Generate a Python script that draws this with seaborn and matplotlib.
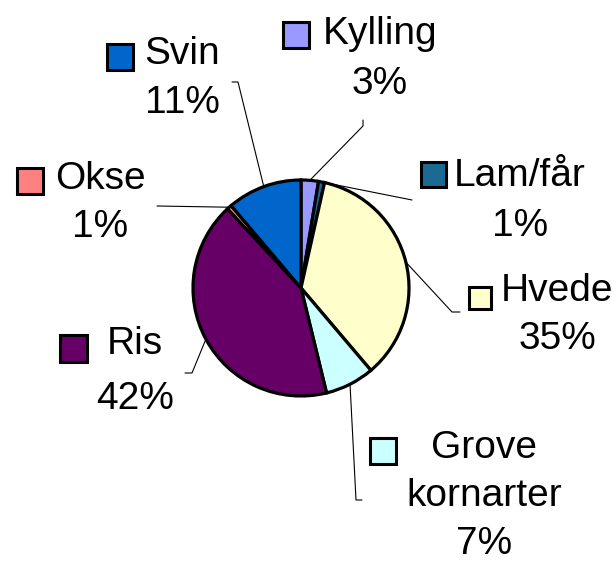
import matplotlib
matplotlib.use("Agg")
import matplotlib.pyplot as plt
import seaborn as sns
import numpy as np
from matplotlib.patches import Rectangle

# slice data, clockwise from 12 o'clock
categories = ["Kylling", "Lam/får", "Hvede", "Grove\nkornarter", "Ris", "Okse", "Svin"]
shares = [2.6, 0.9, 35.3, 7.4, 41.9, 0.7, 11.2]
colors = ["#9999FF", "#1B6A94", "#FFFFCC", "#CCFFFF", "#660066", "#FF8080", "#0066CC"]

W, H = 616, 565
CX, CY, R = 301, 288, 108

# label layout in pixel coords (y down): text centre x, first line y, line step,
# legend square (x0, y0, size), leader path from label side
layout = {
    "Kylling":          dict(tx=380, ty=34,  step=50, sq=(283, 22, 26), lead=[(363, 120), (363, 126)]),
    "Lam/får":          dict(tx=520, ty=176, step=50, sq=(421, 162, 25), lead=[(412, 200)]),
    "Hvede":            dict(tx=557, ty=291, step=48, sq=(469, 287, 22), lead=[(460, 312), (452, 312)]),
    "Grove\nkornarter": dict(tx=484, ty=448, step=48, sq=(370, 438, 26), lead=[(362, 500), (356, 500)]),
    "Ris":              dict(tx=135, ty=344, step=55, sq=(60, 335, 27),  lead=[(185, 373), (192, 373)]),
    "Okse":             dict(tx=100, ty=179, step=48, sq=(17, 168, 26),  lead=[(157, 206)]),
    "Svin":             dict(tx=182, ty=54,  step=49, sq=(107, 44, 26),  lead=[(232, 82), (238, 82)]),
}


def fy(y):
    return H - y


sns.set_theme(style="white")
plt.rcParams["font.family"] = ["Liberation Sans", "DejaVu Sans"]

fig = plt.figure(figsize=(W / 100, H / 100), dpi=100)
ax = fig.add_axes([0, 0, 1, 1])

wedges, _ = ax.pie(shares, colors=colors, startangle=90, counterclock=False,
                   center=(CX, fy(CY)), radius=R, frame=True,
                   wedgeprops=dict(edgecolor="black", linewidth=2.3))
ax.set_xlim(0, W)
ax.set_ylim(0, H)
ax.set_aspect("equal")
ax.axis("off")

total = sum(shares)
for w, name, val, col in zip(wedges, categories, shares, colors):
    lay = layout[name]
    lines = name.split("\n") + [f"{val / total:.0%}"]
    for i, line in enumerate(lines):
        ax.text(lay["tx"], fy(lay["ty"] + i * lay["step"]), line,
                ha="center", va="center", fontsize=28, color="black")
    x0, y0, s = lay["sq"]
    ax.add_patch(Rectangle((x0, fy(y0 + s)), s, s, facecolor=col,
                           edgecolor="black", linewidth=2.2, zorder=5))
    # leader line to the middle of the wedge edge
    ang = np.deg2rad((w.theta1 + w.theta2) / 2)
    ex, ey = CX + R * np.cos(ang), fy(CY) + R * np.sin(ang)
    pts = [(x, fy(y)) for x, y in lay["lead"]] + [(ex, ey)]
    xs, ys = zip(*pts)
    ax.plot(xs, ys, color="black", linewidth=0.8, zorder=1)

fig.savefig("out.png", dpi=100)
